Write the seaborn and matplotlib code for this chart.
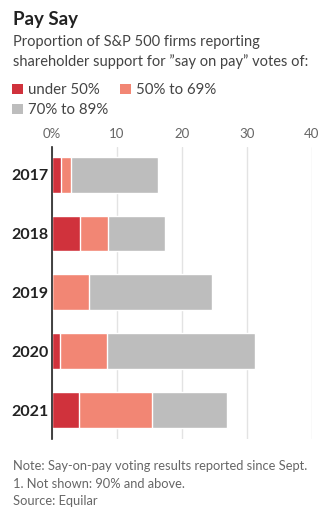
import matplotlib
matplotlib.use("Agg")
import matplotlib.pyplot as plt
from matplotlib.patches import Patch
import seaborn as sns
import pandas as pd
import numpy as np

years = ["2017", "2018", "2019", "2020", "2021"]
under_50 = [1.5, 4.4, 0.0, 1.3, 4.2]
pct_50_69 = [1.5, 4.3, 5.7, 7.2, 11.3]
pct_70_89 = [13.3, 8.8, 19.0, 22.8, 11.5]
series_names = ["under 50%", "50% to 69%", "70% to 89%"]
colors = ["#d0323c", "#f28674", "#bdbdbd"]
xticks = [0, 10, 20, 30, 40]
xticklabels = ["0%", "10", "20", "30", "40"]

sns.set_theme(style="white")
plt.rcParams["font.family"] = ["Lato", "DejaVu Sans"]

fig = plt.figure(figsize=(3.25, 5.16), dpi=100)
ax = fig.add_axes([51.5 / 325, 1 - 439 / 516, (312 - 51.5) / 325, (439 - 147) / 516])

c1 = np.array(under_50)
c2 = c1 + np.array(pct_50_69)
c3 = c2 + np.array(pct_70_89)
df = pd.DataFrame({"year": years, "c1": c1, "c2": c2, "c3": c3})

for col, color in zip(["c3", "c2", "c1"], colors[::-1]):
    sns.barplot(data=df, x=col, y="year", orient="h", color=color, width=0.61,
                edgecolor="white", linewidth=1.0, saturation=1, ax=ax)

ax.set_xlim(0, 40)
ax.set_ylim(4.49, -0.47)
ax.set_xticks(xticks)
ax.set_xticklabels(xticklabels)
ax.xaxis.tick_top()
ax.tick_params(axis="x", length=0, pad=5, labelsize=9.5, labelcolor="#666666")
ax.tick_params(axis="y", length=0, pad=2, labelsize=11.5, labelcolor="#222222")
for lab in ax.get_yticklabels():
    lab.set_fontweight("bold")
ax.set_xlabel("")
ax.set_ylabel("")
for s in ["top", "right", "bottom"]:
    ax.spines[s].set_visible(False)
ax.spines["left"].set_color("#222222")
ax.spines["left"].set_linewidth(1.2)
ax.grid(axis="x", color="#e3e3e3", linewidth=1)
ax.set_axisbelow(True)

fig.text(13 / 325, 1 - 20 / 516, "Pay Say", fontsize=13.5, fontweight="bold",
         color="#222222", va="center", ha="left")
fig.text(13 / 325, 1 - 42 / 516, "Proportion of S&P 500 firms reporting", fontsize=10.5,
         color="#444444", va="center", ha="left")
fig.text(13 / 325, 1 - 62 / 516, "shareholder support for \u201dsay on pay\u201d votes of:",
         fontsize=10.5, color="#444444", va="center", ha="left")

order = [0, 2, 1]
handles = [Patch(facecolor=colors[i], edgecolor="none") for i in order]
labels = [series_names[i] for i in order]
fig.legend(handles, labels, ncol=2, loc="upper left",
           bbox_to_anchor=(12 / 325, 1 - 83 / 516), frameon=False, fontsize=10.8,
           handlelength=0.7, handleheight=0.7, handletextpad=0.35,
           columnspacing=0.8, labelspacing=0.4, labelcolor="#444444",
           borderaxespad=0, borderpad=0)

notes = ["Note: Say-on-pay voting results reported since Sept.",
         "1. Not shown: 90% and above.",
         "Source: Equilar"]
for i, t in enumerate(notes):
    fig.text(13 / 325, 1 - (466 + 17.5 * i) / 516, t, fontsize=9.3, color="#666666",
             va="center", ha="left")

fig.savefig("out.png", dpi=100)
